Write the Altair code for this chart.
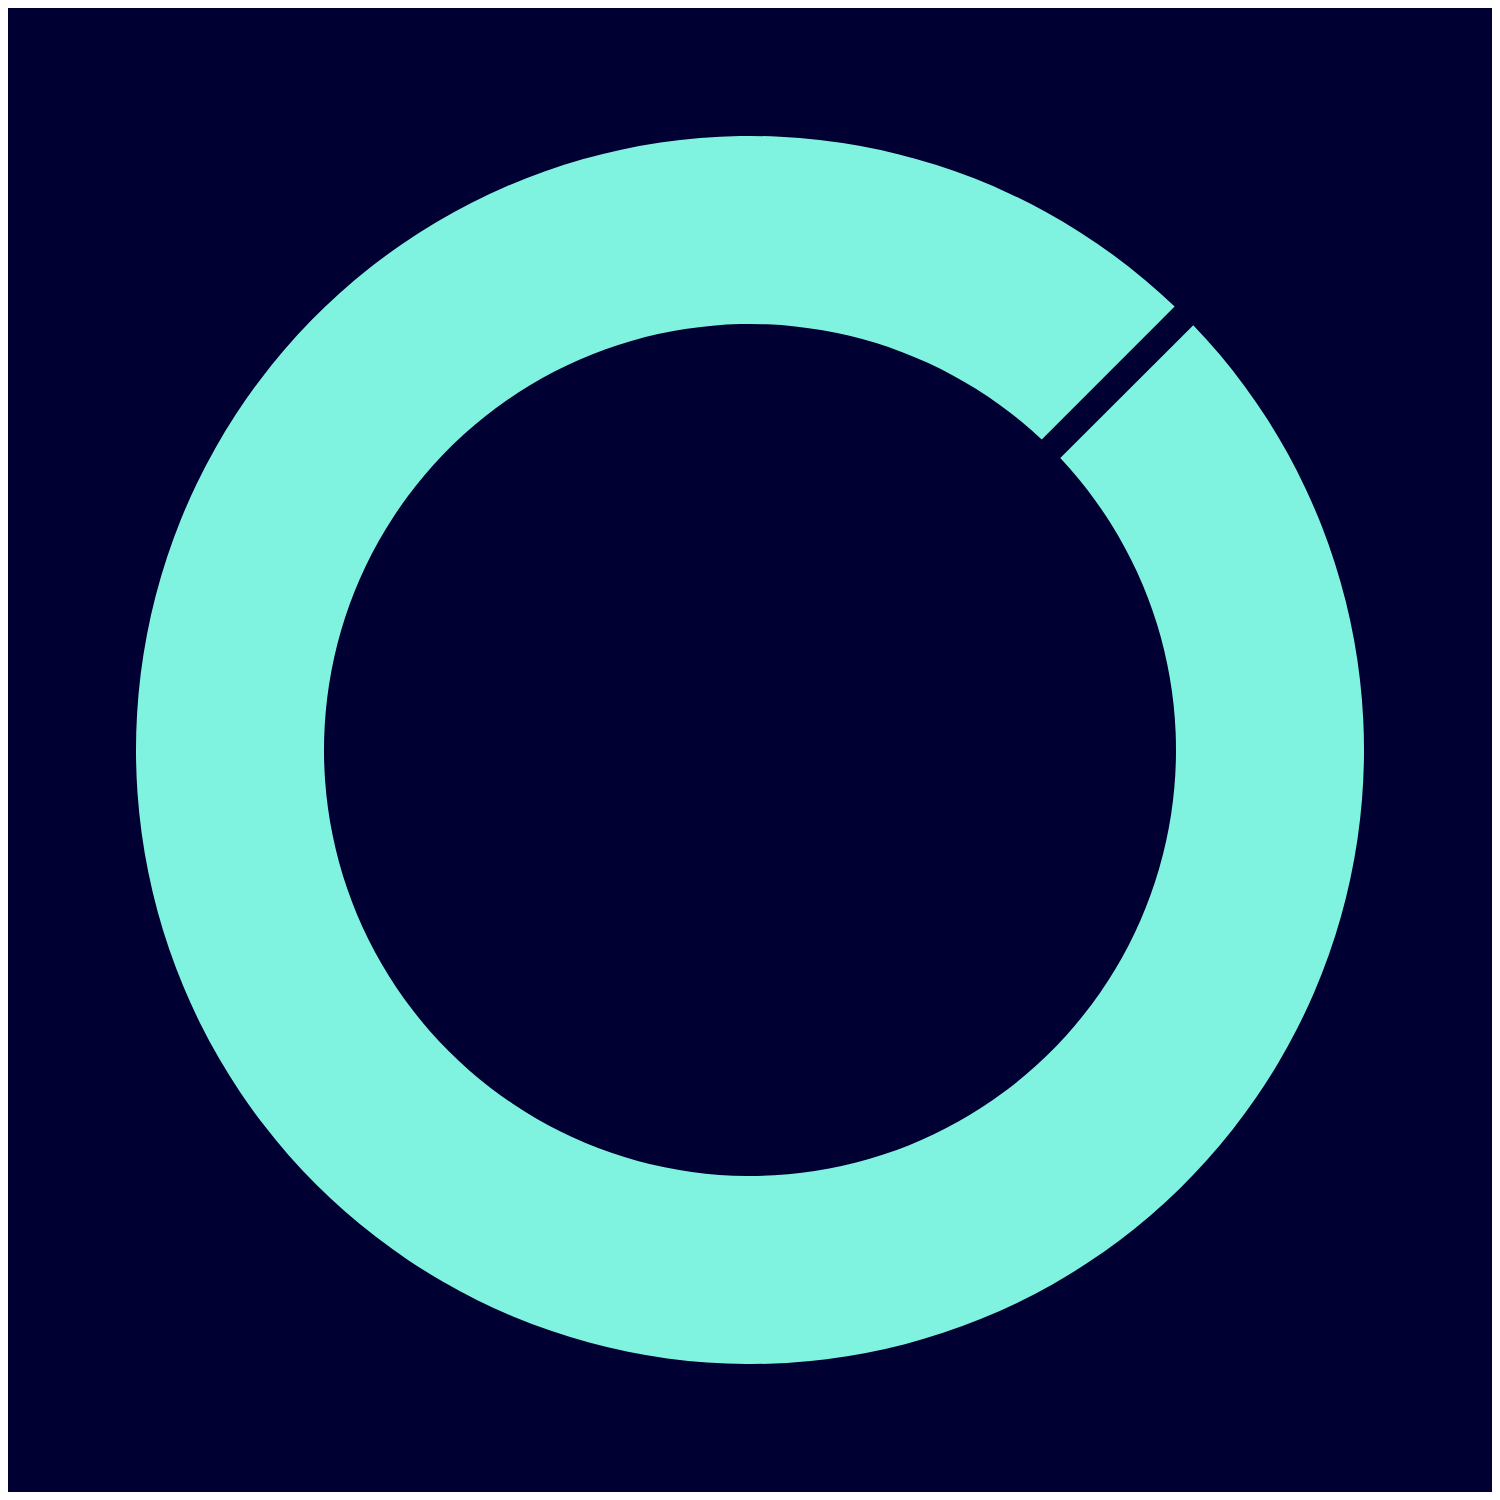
import math
import altair as alt
import pandas as pd

categories = ["Share"]
values = [100]

df = pd.DataFrame({"category": categories, "value": values})

start = math.pi / 4
chart = (
    alt.Chart(df)
    .mark_arc(radius=614, radius2=426, padAngle=0.0348, color="#80F3E0", strokeWidth=0)
    .encode(
        theta=alt.Theta(
            "value:Q",
            stack=True,
            scale=alt.Scale(domain=[0, 100], range=[start, start + 2 * math.pi - 0.0005]),
        ),
        order=alt.Order("category:N"),
    )
    .properties(
        width=1484,
        height=1484,
        background="#000033",
        autosize=alt.AutoSizeParams(type="fit", contains="padding"),
        padding=0,
    )
    .configure_view(stroke=None)
)

chart.save("out.html", embed_options={"renderer": "svg", "actions": False})
